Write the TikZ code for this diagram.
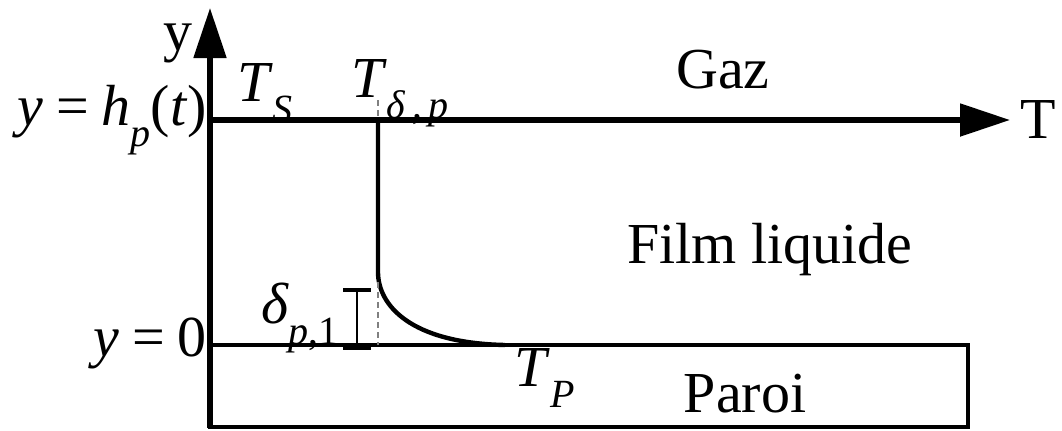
\documentclass[tikz,border=0pt]{standalone}
\usepackage{fontspec}
\setmainfont{Liberation Serif}
\usetikzlibrary{arrows.meta,positioning}
\newcommand{\lowidx}[1]{\raisebox{-0.36em}{\fontsize{20}{22}\selectfont\textit{#1}}}
\newcommand{\wideeq}{\hspace{0.22em}=\hspace{0.22em}}
\tikzset{
axisline/.style={
  line width=2.6pt,
  -{Triangle[length=25pt,width=16pt]}
},
wallline/.style={
  line width=2.2pt
},
profileline/.style={
  line width=2.2pt
},
guideline/.style={
  draw=gray,
  line width=0.6pt,
  dash pattern=on 3pt off 2pt
},
bracketline/.style={
  line width=0.7pt
},
bracketcap/.style={
  line width=2.2pt
},
textlabel/.style={
  font=\fontsize{29}{33}\selectfont,
  inner sep=0pt
}
}
\begin{document}
\begin{tikzpicture}[x=0.5pt,y=-0.5pt]
\useasboundingbox (0,0) rectangle (1062,430);
% axes and wall
\coordinate (ybase) at (210,428);
\coordinate (ytip) at (210,8);
\coordinate (htop) at (210,120);
\coordinate (ttip) at (1010,120);
\coordinate (wallnw) at (210,345);
\coordinate (wallse) at (968,427);
\draw[wallline] (wallnw) rectangle (wallse);
\draw[axisline] (ybase) -- (ytip);
\draw[axisline] (htop) -- (ttip);
% temperature profile
\coordinate (pfirst) at (378,120);
\coordinate (pbend) at (378,272);
\coordinate (plast) at (505,345);
\draw[profileline] (pfirst) -- (pbend) .. controls (378,305) and (410,343) .. (plast);
% guides and film thickness
\coordinate (gtop) at (378,100);
\coordinate (gtopend) at (378,118);
\coordinate (gmid) at (378,282);
\coordinate (gbot) at (378,345);
\draw[guideline] (gtop) -- (gtopend);
\draw[guideline] (gmid) -- (gbot);
\coordinate (bup) at (357,290);
\coordinate (bdown) at (357,348);
\draw[bracketline] (bup) -- (bdown);
\draw[bracketcap] (343,290) -- (371,290);
\draw[bracketcap] (343,348) -- (371,348);
% labels
\node[textlabel] (ylab) at (178,43) {y};
\node[textlabel] (tlab) at (1038,120) {T};
\node[textlabel,anchor=east] (hlab) at (207,120) {\textit{y}\wideeq\textit{h}\lowidx{p}(\textit{t})};
\node[textlabel,anchor=east] (zlab) at (207,343) {\textit{y}\wideeq0};
\node[textlabel] (tslab) at (265,93) {\textit{T}\lowidx{S}};
\node[textlabel] (tdlab) at (400,93) {\textit{T}\lowidx{δ\,,\,p}};
\node[textlabel] (gazlab) at (723,70) {Gaz};
\node[textlabel] (filmlab) at (770,250) {Film liquide};
\node[textlabel] (deltalab) at (300,318) {\textit{δ}\lowidx{p\upshape,1}};
\node[textlabel] (tplab) at (545,378) {\textit{T}\lowidx{P}};
\node[textlabel] (paroilab) at (745,394) {Paroi};
\end{tikzpicture}
\end{document}
